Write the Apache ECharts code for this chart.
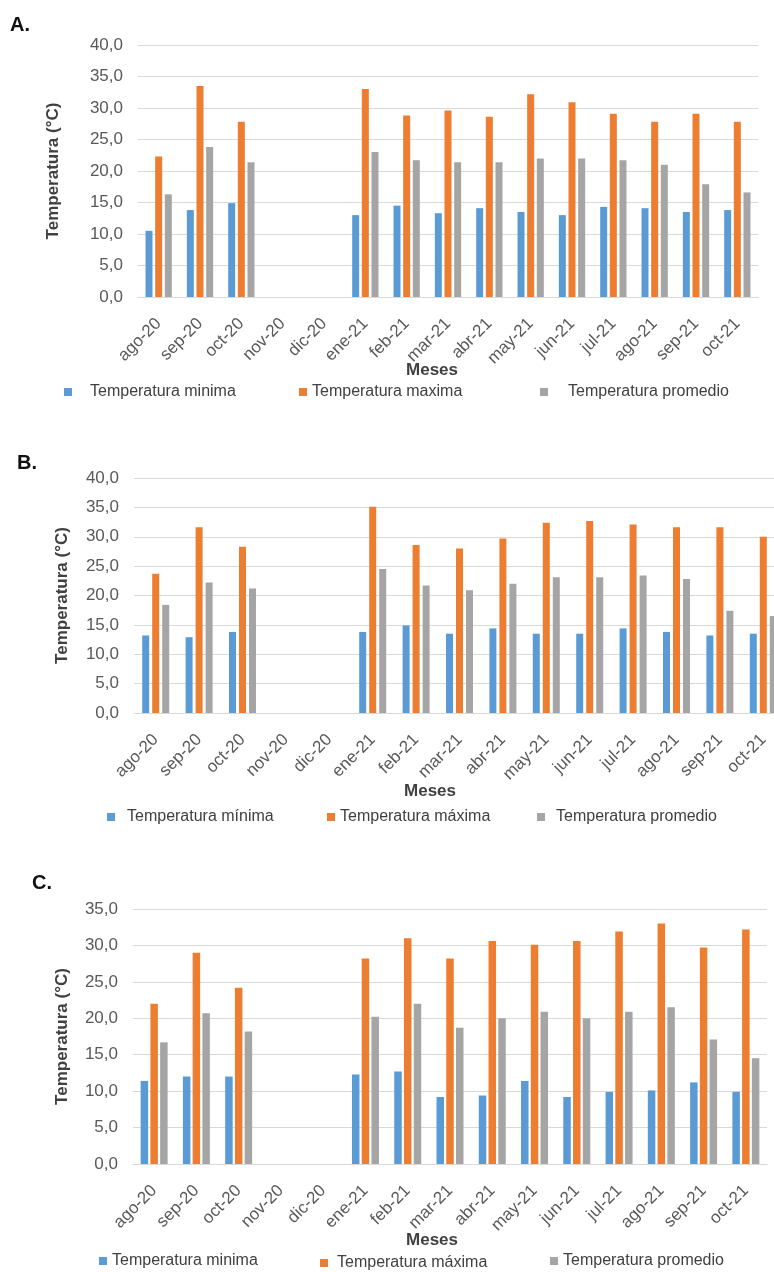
<!DOCTYPE html>
<html>
<head>
<meta charset="utf-8">
<script src="https://cdn.jsdelivr.net/npm/echarts@6/dist/echarts.min.js"></script>
<style>
html,body{margin:0;padding:0;background:#fff;}
#chart{width:774px;height:1272px;}
</style>
</head>
<body>
<div id="chart"></div>
<script>
const months = ['ago-20','sep-20','oct-20','nov-20','dic-20','ene-21','feb-21','mar-21','abr-21','may-21','jun-21','jul-21','ago-21','sep-21','oct-21'];

const minA = [10.5, 13.8, 14.9, null, null, 13.0, 14.5, 13.3, 14.1, 13.5, 13.0, 14.3, 14.1, 13.5, 13.8];
const maxA = [22.3, 33.5, 27.8, null, null, 33.0, 28.8, 29.6, 28.6, 32.2, 30.9, 29.1, 27.8, 29.1, 27.8];
const avgA = [16.3, 23.8, 21.4, null, null, 23.0, 21.7, 21.4, 21.4, 22.0, 22.0, 21.7, 21.0, 17.9, 16.6];

const minB = [13.2, 12.9, 13.8, null, null, 13.8, 14.9, 13.5, 14.4, 13.5, 13.5, 14.4, 13.8, 13.2, 13.5];
const maxB = [23.7, 31.6, 28.3, null, null, 35.1, 28.6, 28.0, 29.7, 32.4, 32.7, 32.1, 31.6, 31.6, 30.0];
const avgB = [18.4, 22.2, 21.2, null, null, 24.5, 21.7, 20.9, 22.0, 23.1, 23.1, 23.4, 22.8, 17.4, 16.5];

const minC = [11.4, 12.0, 12.0, null, null, 12.3, 12.7, 9.2, 9.4, 11.4, 9.2, 9.9, 10.1, 11.2, 9.9];
const maxC = [22.0, 29.0, 24.2, null, null, 28.2, 31.0, 28.2, 30.6, 30.1, 30.6, 31.9, 33.0, 29.7, 32.2];
const avgC = [16.7, 20.7, 18.2, null, null, 20.2, 22.0, 18.7, 20.0, 20.9, 20.0, 20.9, 21.5, 17.1, 14.5];

const namesA = ['Temperatura minima', 'Temperatura maxima', 'Temperatura promedio'];
const namesB = ['Temperatura mínima', 'Temperatura máxima', 'Temperatura promedio'];
const namesC = ['Temperatura minima', 'Temperatura máxima', 'Temperatura promedio'];

const COLORS = ['#5B9BD5', '#ED7D31', '#A5A5A5'];
const FONT = '"Liberation Sans", Arial, sans-serif';

const grids = [
  {left: 138, width: 620, top: 45, height: 252, outerBoundsMode: 'none'},
  {left: 134, width: 651, top: 478, height: 235, outerBoundsMode: 'none'},
  {left: 133, width: 634, top: 909, height: 255, outerBoundsMode: 'none'}
];
const yMax = [40, 40, 35];
const nameGaps = [76, 63, 62];
const barWidths = [7, 7, 7.5];
const barGaps = ['38%', '43%', '30%'];

const panels = [
  {names: namesA, data: [minA, maxA, avgA]},
  {names: namesB, data: [minB, maxB, avgB]},
  {names: namesC, data: [minC, maxC, avgC]}
];

const xAxes = grids.map((g, i) => ({
  type: 'category', gridIndex: i, data: months,
  axisLine: {show: true, lineStyle: {color: '#D9D9D9', width: 1}},
  axisTick: {show: false},
  axisLabel: {rotate: 45, margin: 24, color: '#595959', fontSize: 17, fontFamily: FONT, interval: 0}
}));

const yAxes = grids.map((g, i) => ({
  type: 'value', gridIndex: i, min: 0, max: yMax[i], interval: 5,
  name: 'Temperatura (°C)', nameLocation: 'middle', nameGap: nameGaps[i],
  nameTextStyle: {fontSize: 17, fontWeight: 'bold', color: '#404040', fontFamily: FONT},
  axisLine: {show: false}, axisTick: {show: false},
  axisLabel: {margin: 15, color: '#595959', fontSize: 17, fontFamily: FONT,
    formatter: v => v.toFixed(1).replace('.', ',')},
  splitLine: {lineStyle: {color: '#D9D9D9', width: 1}}
}));

const series = [];
panels.forEach((p, i) => {
  p.names.forEach((n, k) => {
    series.push({
      type: 'bar', name: n, xAxisIndex: i, yAxisIndex: i,
      data: p.data[k], barWidth: barWidths[i], barGap: barGaps[i],
      itemStyle: {color: COLORS[k]}, silent: true, animation: false
    });
  });
});

// legend layout: [name, iconLeft, centerY, textPad]
const legendItems = [
  [namesA[0], 64, 393, 13], [namesA[1], 299, 393, 0], [namesA[2], 540, 393, 15],
  [namesB[0], 107, 818, 7], [namesB[1], 327, 818, 0], [namesB[2], 537, 818, 6],
  [namesC[0], 99, 1262, 0], [namesC[1], 320, 1264, 4], [namesC[2], 550, 1262, 0]
];
const legends = legendItems.map(it => ({
  data: [it[0]], left: it[1], top: it[2] - 9, padding: 0,
  itemWidth: 8, itemHeight: 8, icon: 'rect', selectedMode: false,
  textStyle: {fontSize: 16, color: '#404040', fontFamily: FONT, padding: [0, 0, 0, it[3]]}
}));

const texts = [
  ['A.', 10, 25, 20, 'left'], ['B.', 17, 463, 20, 'left'], ['C.', 32, 883, 20, 'left'],
  ['Meses', 432, 370, 17, 'center'], ['Meses', 430, 791, 17, 'center'], ['Meses', 432, 1240, 17, 'center']
];
const graphic = texts.map(t => ({
  type: 'text', left: t[4] === 'center' ? undefined : t[1], x: t[4] === 'center' ? t[1] : undefined,
  y: t[2],
  style: {text: t[0], fontSize: t[3], fontWeight: 'bold', fill: t[0] === 'Meses' ? '#404040' : '#111',
    fontFamily: FONT, textAlign: t[4], textVerticalAlign: 'middle'}
}));

const chart = echarts.init(document.getElementById('chart'), null, {renderer: 'canvas'});
chart.setOption({
  animation: false,
  backgroundColor: '#fff',
  grid: grids,
  xAxis: xAxes,
  yAxis: yAxes,
  legend: legends,
  series: series,
  graphic: graphic
});
</script>
</body>
</html>
